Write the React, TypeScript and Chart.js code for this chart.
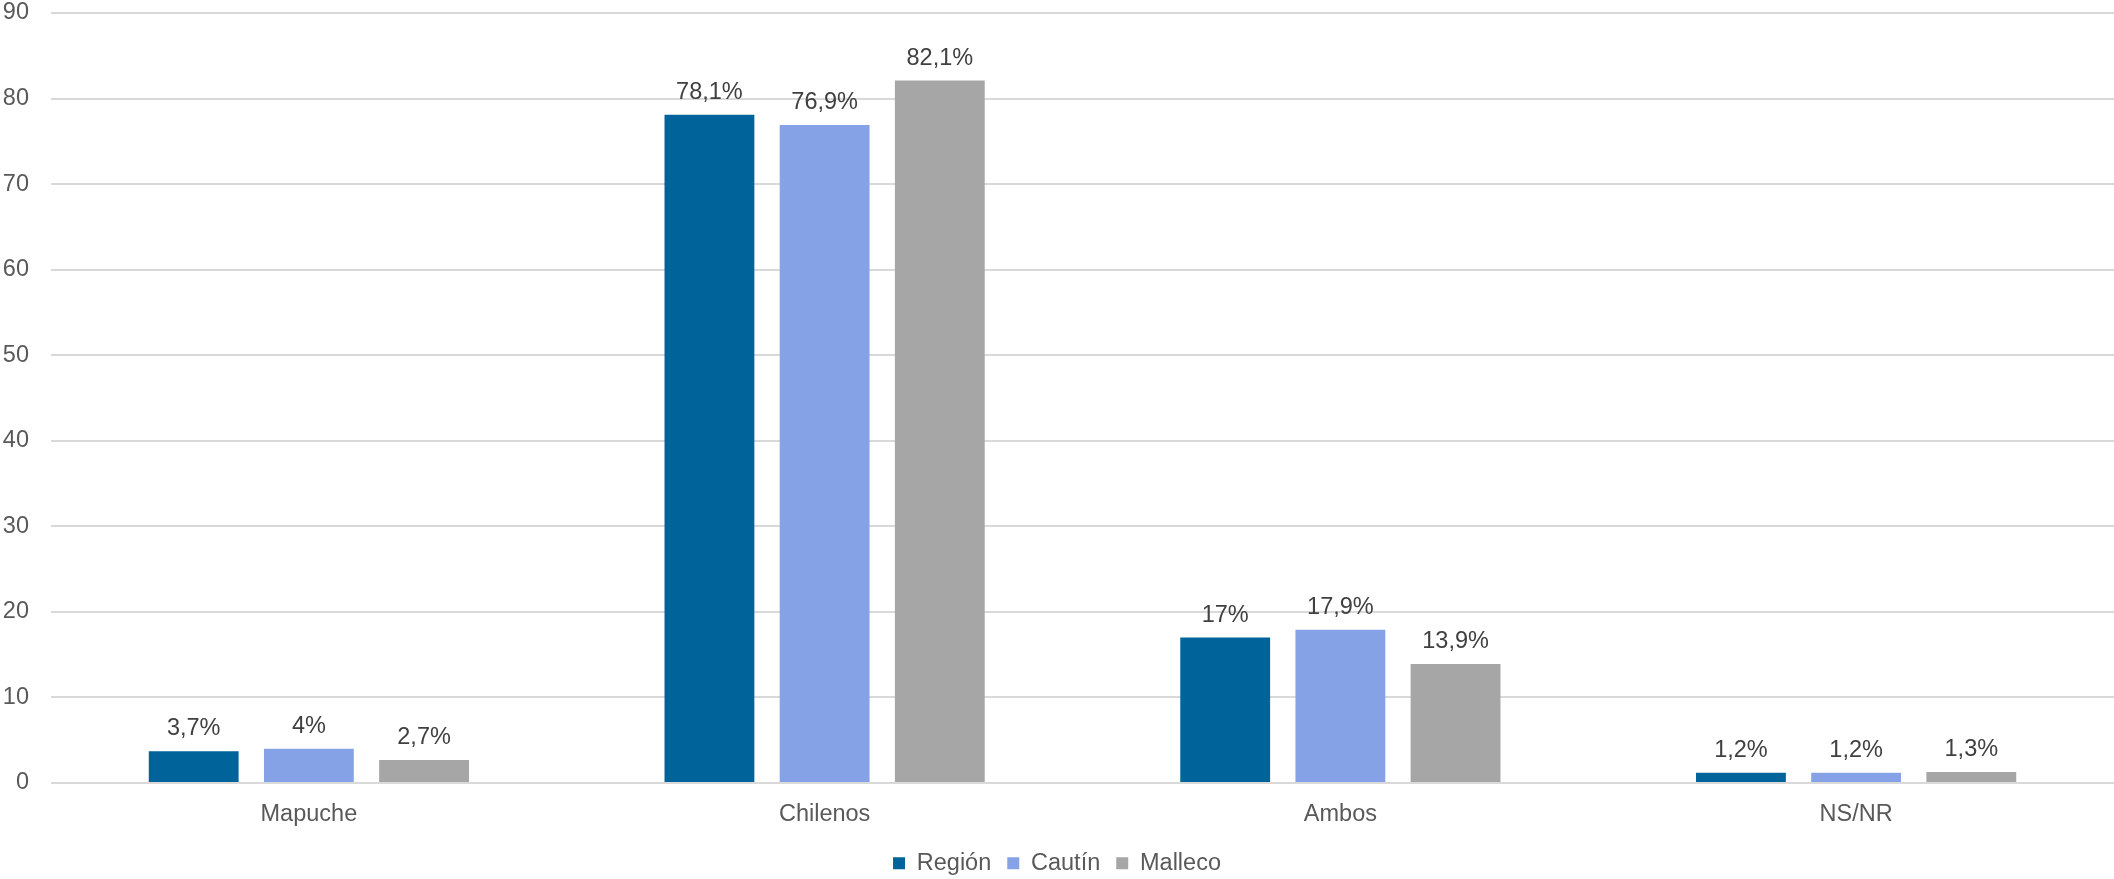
import React, { useEffect, useRef } from "react";
import { Chart, registerables } from "chart.js";

Chart.register(...registerables);

const categories = ["Mapuche", "Chilenos", "Ambos", "NS/NR"];
const seriesNames = ["Región", "Cautín", "Malleco"];
const regionValues = [3.7, 78.1, 17, 1.2];
const cautinValues = [4, 76.9, 17.9, 1.2];
const mallecoValues = [2.7, 82.1, 13.9, 1.3];
const seriesColors = ["#006399", "#86A2E6", "#A6A6A6"];
const yMax = 90;
const yStep = 10;

const FONT = "'Liberation Sans', Arial, sans-serif";
const FS = 23.5;

const dataLabelPlugin = {
  id: "dataLabels",
  afterDatasetsDraw(chart: any) {
    const ctx = chart.ctx;
    ctx.save();
    ctx.font = `${FS}px ${FONT}`;
    ctx.fillStyle = "#404040";
    ctx.textAlign = "center";
    ctx.textBaseline = "alphabetic";
    chart.data.datasets.forEach((ds: any, i: number) => {
      const meta = chart.getDatasetMeta(i);
      meta.data.forEach((el: any, j: number) => {
        const v = ds.data[j];
        const txt = String(v).replace(".", ",") + "%";
        ctx.fillText(txt, el.x, el.y - 16);
      });
    });
    ctx.restore();
  },
};

export default function App() {
  const ref = useRef<HTMLCanvasElement | null>(null);
  useEffect(() => {
    document.body.style.margin = "0";
    const canvas = ref.current!;
    const chart = new Chart(canvas, {
      type: "bar",
      data: {
        labels: categories,
        datasets: [regionValues, cautinValues, mallecoValues].map((d, i) => ({
          label: seriesNames[i],
          data: d,
          backgroundColor: seriesColors[i],
          borderWidth: 0,
          categoryPercentage: 0.67,
          barPercentage: 0.78,
        })),
      },
      options: {
        responsive: false,
        animation: false,
        devicePixelRatio: 1,
        layout: { padding: { top: 13, right: 0, left: 0, bottom: -6 } },
        plugins: {
          tooltip: { enabled: false },
          legend: {
            position: "bottom",
            labels: {
              boxWidth: 12,
              boxHeight: 12,
              padding: 16,
              color: "#595959",
              font: { family: FONT, size: FS },
            },
          },
        },
        scales: {
          x: {
            grid: { display: false, drawTicks: false },
            border: { display: false },
            ticks: { color: "#595959", font: { family: FONT, size: FS }, padding: 17 },
            afterFit(scale: any) {
              scale.height = 52.5;
              scale.paddingLeft = 0;
              scale.paddingRight = 0;
            },
          },
          y: {
            min: 0,
            max: yMax,
            ticks: {
              stepSize: yStep,
              color: "#595959",
              font: { family: FONT, size: FS },
              padding: 22,
            },
            grid: { color: "#D9D9D9", lineWidth: 2, drawTicks: false },
            border: { display: false },
            afterFit(scale: any) {
              scale.width = 51;
              scale.paddingTop = 0;
              scale.paddingBottom = 0;
            },
          },
        },
      },
      plugins: [dataLabelPlugin],
    });
    return () => chart.destroy();
  }, []);
  return (
    <div style={{ width: 2114, height: 879 }}>
      <canvas ref={ref} width={2114} height={879} />
    </div>
  );
}
